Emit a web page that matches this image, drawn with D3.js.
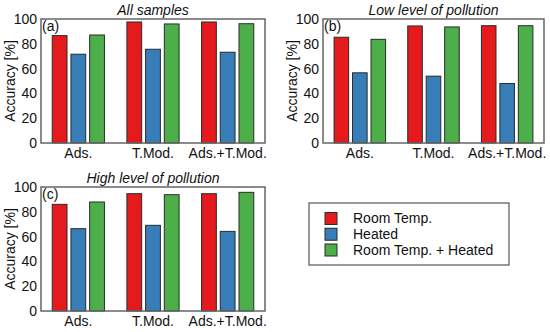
<!DOCTYPE html>
<html>
<head>
<meta charset="utf-8">
<script src="https://cdn.jsdelivr.net/npm/d3@7"></script>
<style>
  body { margin: 0; background: #fff; }
  text { font-family: "Liberation Sans", Arial, sans-serif; }
</style>
</head>
<body>
<svg id="chart" width="550" height="332"></svg>
<script>
var groups = ["Ads.", "T.Mod.", "Ads.+T.Mod."];
var seriesNames = ["Room Temp.", "Heated", "Room Temp. + Heated"];
var seriesColors = ["#e41a1c", "#377eb8", "#4daf4a"];
var yTicks = [0, 20, 40, 60, 80, 100];

// values per group: [Room Temp., Heated, Room Temp. + Heated]
var allSamples = [[86.6, 71.6, 87.1], [97.6, 75.6, 96.0], [97.6, 73.2, 96.2]];
var lowPollution = [[85.3, 56.6, 83.6], [94.4, 53.9, 93.6], [94.6, 48.0, 94.6]];
var highPollution = [[86.0, 66.4, 87.9], [94.6, 69.1, 93.8], [94.6, 64.2, 95.7]];

var svg = d3.select("#chart");

function drawPanel(values, title, tag, left, top, width, height) {
    var g = svg.append("g")
        .attr("transform", "translate(" + left + "," + top + ")");

    var x = d3.scaleBand().domain(groups).range([0, width]).padding(0);
    var xi = d3.scaleBand().domain(d3.range(3)).range([0, x.bandwidth()])
        .paddingInner(0.21).paddingOuter(0.6);
    var y = d3.scaleLinear().domain([0, 100]).range([height, 0]);

    // bars
    groups.forEach(function(grp, gi) {
        g.selectAll(null)
            .data(values[gi])
            .enter().append("rect")
            .attr("x", function(d, i) { return x(grp) + xi(i); })
            .attr("y", function(d) { return y(d); })
            .attr("width", xi.bandwidth())
            .attr("height", function(d) { return y(0) - y(d); })
            .attr("fill", function(d, i) { return seriesColors[i]; })
            .attr("stroke", "#2b2b2b")
            .attr("stroke-width", 1);
    });

    // frame
    g.append("rect")
        .attr("width", width)
        .attr("height", height)
        .attr("fill", "none")
        .attr("stroke", "#666")
        .attr("stroke-width", 1.5);

    // y axis
    var ya = g.append("g")
        .call(d3.axisLeft(y).tickValues(yTicks).tickSize(0).tickPadding(4));
    ya.select(".domain").remove();
    ya.selectAll("text")
        .attr("font-size", "14px")
        .attr("fill", "#111")
        .style("font-family", "'Liberation Sans', Arial, sans-serif");

    // x axis
    var xa = g.append("g")
        .attr("transform", "translate(0," + height + ")")
        .call(d3.axisBottom(x).tickSize(0).tickPadding(5));
    xa.select(".domain").remove();
    xa.selectAll("text")
        .attr("font-size", "14px")
        .attr("fill", "#111")
        .style("font-family", "'Liberation Sans', Arial, sans-serif");

    // y label
    g.append("text")
        .attr("transform", "rotate(-90)")
        .attr("x", -height / 2)
        .attr("y", -26)
        .attr("text-anchor", "middle")
        .attr("font-size", "14px")
        .attr("fill", "#111")
        .text("Accuracy [%]");

    // title
    g.append("text")
        .attr("x", width / 2)
        .attr("y", -4)
        .attr("text-anchor", "middle")
        .attr("font-size", "14px")
        .attr("font-style", "italic")
        .attr("fill", "#111")
        .text(title);

    // panel tag
    g.append("text")
        .attr("x", 1)
        .attr("y", 12)
        .attr("font-size", "14px")
        .attr("fill", "#111")
        .text(tag);
}

drawPanel(allSamples, "All samples", "(a)", 41, 19, 224, 124);
drawPanel(lowPollution, "Low level of pollution", "(b)", 323, 19, 221, 124);
drawPanel(highPollution, "High level of pollution", "(c)", 41, 187, 224, 124);

// legend
var legend = svg.append("g").attr("transform", "translate(309,203)");
legend.append("rect")
    .attr("width", 200)
    .attr("height", 62)
    .attr("fill", "#fff")
    .attr("stroke", "#555")
    .attr("stroke-width", 1.2);

var ly = d3.scalePoint().domain(seriesNames).range([15.5, 47]);
seriesNames.forEach(function(name, i) {
    legend.append("rect")
        .attr("x", 16)
        .attr("y", ly(name) - 6)
        .attr("width", 12)
        .attr("height", 12)
        .attr("fill", seriesColors[i])
        .attr("stroke", "#2b2b2b")
        .attr("stroke-width", 1);
    legend.append("text")
        .attr("x", 44)
        .attr("y", ly(name))
        .attr("dy", "0.35em")
        .attr("font-size", "14px")
        .attr("fill", "#111")
        .text(name);
});
</script>
</body>
</html>
